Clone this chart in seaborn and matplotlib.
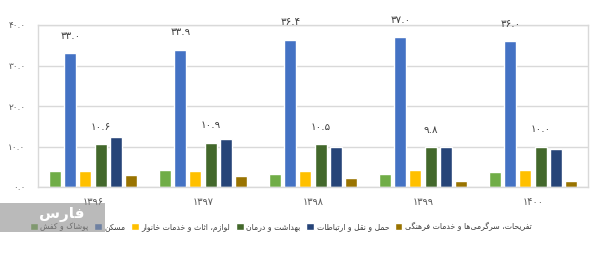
import matplotlib
matplotlib.use("Agg")
import matplotlib.pyplot as plt
from matplotlib.patches import Rectangle
import seaborn as sns
import pandas as pd

# ---------------- data ----------------
years = ["۱۳۹۶", "۱۳۹۷", "۱۳۹۸", "۱۳۹۹", "۱۴۰۰"]
series_names = [
    "پوشاک و کفش",
    "مسکن",
    "لوازم، اثاث و خدمات خانوار",
    "بهداشت و درمان",
    "حمل و نقل و ارتباطات",
    "تفریحات، سرگرمی‌ها و خدمات فرهنگی",
]
clothing = [4.0, 4.2, 3.1, 3.3, 3.8]
housing = [33.0, 33.9, 36.4, 37.0, 36.0]
furnishing = [4.0, 4.0, 4.0, 4.3, 4.2]
health = [10.6, 10.9, 10.5, 9.8, 10.0]
transport = [12.4, 11.9, 10.0, 9.9, 9.5]
recreation = [3.0, 2.8, 2.2, 1.6, 1.6]
labelled_series = [1, 3]  # housing, health
y_ticks = [0, 10, 20, 30, 40]
colors = ["#70AD47", "#4472C4", "#FFC000", "#43682B", "#264478", "#997300"]

# ---------------- Persian shaping (presentation forms) ----------------
FORMS = {
    'ا': ('\uFE8D', '\uFE8E', None, None),
    'ب': ('\uFE8F', '\uFE90', '\uFE91', '\uFE92'),
    'پ': ('\uFB56', '\uFB57', '\uFB58', '\uFB59'),
    'ت': ('\uFE95', '\uFE96', '\uFE97', '\uFE98'),
    'ث': ('\uFE99', '\uFE9A', '\uFE9B', '\uFE9C'),
    'ح': ('\uFEA1', '\uFEA2', '\uFEA3', '\uFEA4'),
    'خ': ('\uFEA5', '\uFEA6', '\uFEA7', '\uFEA8'),
    'د': ('\uFEA9', '\uFEAA', None, None),
    'ر': ('\uFEAD', '\uFEAE', None, None),
    'ز': ('\uFEAF', '\uFEB0', None, None),
    'س': ('\uFEB1', '\uFEB2', '\uFEB3', '\uFEB4'),
    'ش': ('\uFEB5', '\uFEB6', '\uFEB7', '\uFEB8'),
    'ط': ('\uFEC1', '\uFEC2', '\uFEC3', '\uFEC4'),
    'ف': ('\uFED1', '\uFED2', '\uFED3', '\uFED4'),
    'ق': ('\uFED5', '\uFED6', '\uFED7', '\uFED8'),
    'ک': ('\uFB8E', '\uFB8F', '\uFB90', '\uFB91'),
    'گ': ('\uFB92', '\uFB93', '\uFB94', '\uFB95'),
    'ل': ('\uFEDD', '\uFEDE', '\uFEDF', '\uFEE0'),
    'م': ('\uFEE1', '\uFEE2', '\uFEE3', '\uFEE4'),
    'ن': ('\uFEE5', '\uFEE6', '\uFEE7', '\uFEE8'),
    'ه': ('\uFEE9', '\uFEEA', '\uFEEB', '\uFEEC'),
    'و': ('\uFEED', '\uFEEE', None, None),
    'ی': ('\uFBFC', '\uFBFD', '\uFBFE', '\uFBFF'),
}


def shape(text):
    out = []
    n = len(text)
    for i, ch in enumerate(text):
        if ch not in FORMS:
            if ch != '\u200c':
                out.append(ch)
            continue
        prev = text[i - 1] if i > 0 else None
        nxt = text[i + 1] if i + 1 < n else None
        join_prev = prev in FORMS and FORMS[prev][2] is not None
        join_next = FORMS[ch][2] is not None and nxt in FORMS
        iso, fin, ini, med = FORMS[ch]
        if join_prev and join_next:
            out.append(med)
        elif join_prev:
            out.append(fin)
        elif join_next:
            out.append(ini)
        else:
            out.append(iso)
    return ''.join(reversed(out))


def fa_num(v):
    s = f"{v:.1f}"
    return s.translate(str.maketrans("0123456789", "۰۱۲۳۴۵۶۷۸۹"))


# ---------------- dataframe ----------------
all_vals = [clothing, housing, furnishing, health, transport, recreation]
shaped_names = [shape(n) for n in series_names]
rows = []
for name, vals in zip(shaped_names, all_vals):
    for y, v in zip(years, vals):
        rows.append({"year": y, "series": name, "value": v})
df = pd.DataFrame(rows)

# ---------------- plot ----------------
sns.set_theme(style="white")
plt.rcParams["font.family"] = ["DejaVu Sans"]

fig = plt.figure(figsize=(6.07, 2.57), dpi=100)
ax = fig.add_axes([38 / 607, 1 - 187 / 257, 550 / 607, 162 / 257])

sns.barplot(data=df, x="year", y="value", hue="series", hue_order=shaped_names,
            order=years, palette=colors, width=0.82, gap=0.2, ax=ax,
            errorbar=None, saturation=1, legend=True)

ax.set_ylim(0, 40)
ax.set_yticks(y_ticks)
ax.set_yticklabels([fa_num(t) for t in y_ticks], fontsize=6.5, color="#595959")
ax.set_xticks(range(len(years)))
ax.set_xticklabels(years, fontsize=7, color="#595959")
ax.set_xlabel("")
ax.set_ylabel("")
ax.tick_params(axis="both", length=0)
ax.tick_params(axis="y", pad=9)
ax.tick_params(axis="x", pad=7)
ax.yaxis.grid(True, color="#D9D9D9", linewidth=1)
ax.set_axisbelow(True)
for sp in ax.spines.values():
    sp.set_color("#D9D9D9")
    sp.set_linewidth(1)

for idx in labelled_series:
    cont = ax.containers[idx]
    ax.bar_label(cont, labels=[fa_num(v) for v in all_vals[idx]], padding=9,
                 fontsize=7.5, color="#404040")

handles, labels = ax.get_legend_handles_labels()
if ax.legend_:
    ax.legend_.remove()
fig.legend(handles, labels, loc="center left", bbox_to_anchor=(30 / 607, 1 - 227 / 257),
           ncol=6, frameon=False, fontsize=5.6, handlelength=1.0, handleheight=1.0,
           handletextpad=0.35, columnspacing=0.7, labelcolor="#404040",
           borderpad=0, borderaxespad=0)

# watermark box
fig.patches.append(Rectangle((0, 1 - 232 / 257), 105 / 607, 29 / 257,
                             transform=fig.transFigure, facecolor="#8C8C8C",
                             alpha=0.6, edgecolor="none", zorder=10))
fig.text(62 / 607, 1 - 215 / 257, shape("فارس"), color="white", fontsize=11,
         fontweight="bold", ha="center", va="center", zorder=11)

fig.savefig("out.png", dpi=100)
